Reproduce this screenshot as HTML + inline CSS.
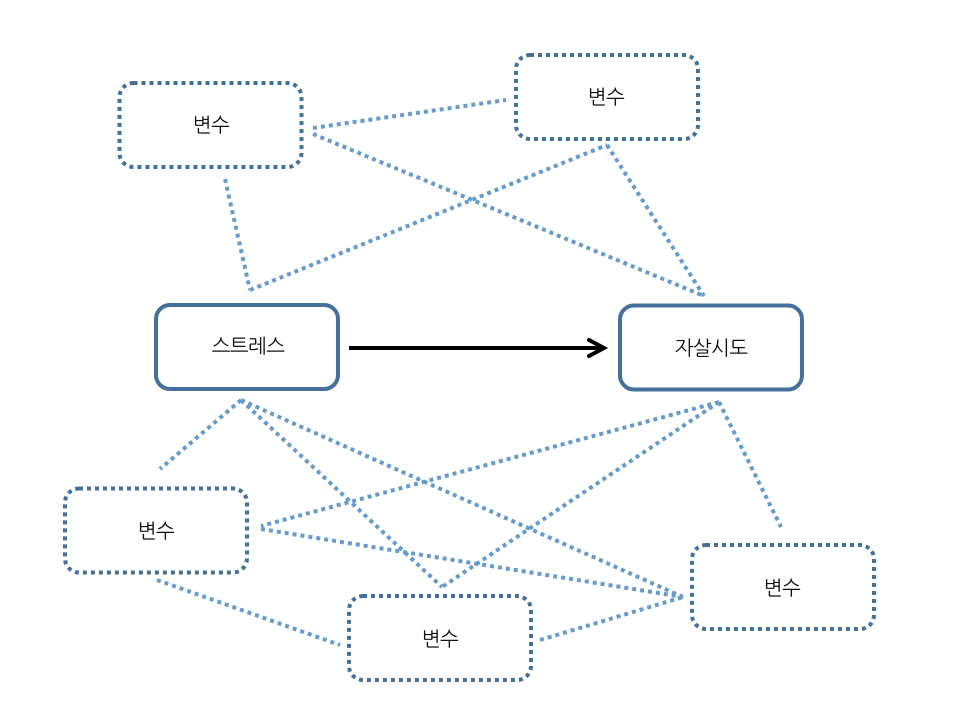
<!DOCTYPE html>
<html><head><meta charset="utf-8">
<style>html,body{margin:0;padding:0;background:#fff}svg{display:block}
text{font-family:"Liberation Sans","NanumGothic","Noto Sans CJK KR",sans-serif;font-size:20px;fill:#111;text-anchor:middle;letter-spacing:-0.6px}</style></head>
<body>
<svg width="960" height="720" viewBox="0 0 960 720" xmlns="http://www.w3.org/2000/svg">
<g fill="none" stroke="#659ccb" stroke-width="4" stroke-dasharray="4 4">
<line x1="313" y1="128" x2="506" y2="100"/>
<line x1="313" y1="134" x2="704" y2="296"/>
<line x1="225" y1="179" x2="250" y2="290"/>
<line x1="250" y1="290" x2="607" y2="145"/>
<line x1="607" y1="145" x2="704" y2="296"/>
<line x1="241" y1="400" x2="160" y2="469"/>
<line x1="241" y1="400" x2="442" y2="587"/>
<line x1="241" y1="400" x2="683" y2="597"/>
<line x1="719" y1="402" x2="261" y2="526"/>
<line x1="719" y1="402" x2="442" y2="587"/>
<line x1="719" y1="402" x2="781" y2="527"/>
<line x1="261" y1="529" x2="683" y2="597"/>
<line x1="157" y1="580" x2="340" y2="645"/>
<line x1="540" y1="640" x2="683" y2="597"/>
</g>
<g fill="#fff" stroke="#45709b" stroke-width="4" stroke-dasharray="4 4">
<rect x="119.500" y="83" width="182" height="84" rx="14"/>
<rect x="516" y="55" width="182" height="84" rx="14"/>
<rect x="65" y="488.500" width="182" height="84" rx="14"/>
<rect x="349" y="596" width="182" height="84" rx="14"/>
<rect x="692" y="545" width="182" height="84" rx="14"/>
</g>
<g fill="#fff" stroke="#45709b" stroke-width="4">
<rect x="156" y="305" width="182" height="84" rx="14"/>
<rect x="620" y="305.500" width="182" height="84" rx="14"/>
</g>
<g fill="none" stroke="#000" stroke-width="4">
<line x1="349" y1="348" x2="602" y2="348"/>
<polyline points="589,340 604,348 589,356" stroke-linecap="round" stroke-linejoin="miter"/>
</g>
<text x="211" y="132">변수</text>
<text x="606" y="104">변수</text>
<text x="248" y="353">스트레스</text>
<text x="711" y="355">자살시도</text>
<text x="156" y="538">변수</text>
<text x="440" y="646">변수</text>
<text x="782" y="595">변수</text>
</svg>
</body></html>
